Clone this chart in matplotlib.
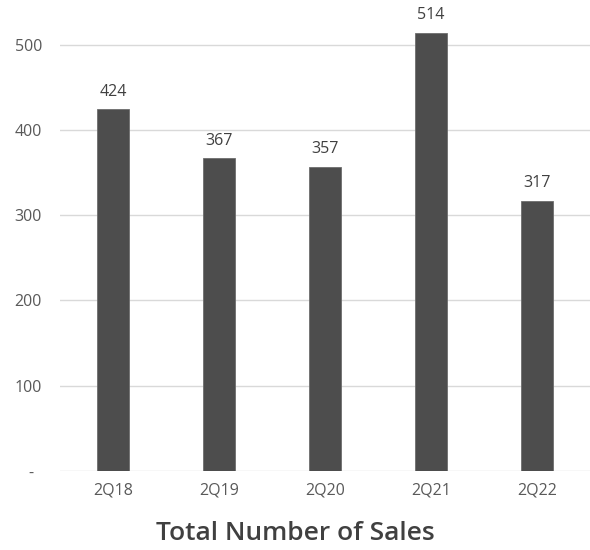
import matplotlib.pyplot as plt

quarters = ["2Q18", "2Q19", "2Q20", "2Q21", "2Q22"]
sales = [424, 367, 357, 514, 317]
yticks = [0, 100, 200, 300, 400, 500]
ytick_labels = ["-  ", "100", "200", "300", "400", "500"]

plt.rcParams['font.family'] = ['Open Sans', 'DejaVu Sans']
text_col = "#595959"

fig = plt.figure(figsize=(5.9, 5.5), dpi=100)
ax = fig.add_axes([0.1017, 0.1436, 0.8983, 0.8527])

x = range(len(quarters))
bars = ax.bar(x, sales, width=0.31, color="#4d4d4d", edgecolor="#6e6e6e",
              linewidth=0.6, zorder=3)
for b, v in zip(bars, sales):
    ax.text(b.get_x() + b.get_width() / 2, v + 11, str(v), ha="center",
            va="bottom", fontsize=11.5, color="#404040")

ax.set_xlim(-0.5, len(quarters) - 0.5)
ax.set_ylim(0, 550)
ax.set_xticks(list(x))
ax.set_xticklabels(quarters)
ax.set_yticks(yticks)
ax.set_yticklabels(ytick_labels)
ax.tick_params(length=0, labelsize=11.5, labelcolor=text_col)
ax.tick_params(axis="y", pad=13)
ax.tick_params(axis="x", pad=8)
ax.grid(axis="y", color="#d9d9d9", linewidth=1, zorder=0)
for s in ax.spines.values():
    s.set_visible(False)

fig.text(0.5, 0.018, "Total Number of Sales", ha="center", va="baseline",
         fontsize=19, fontweight="semibold", color="#404040")

fig.savefig("out.png", dpi=100)
